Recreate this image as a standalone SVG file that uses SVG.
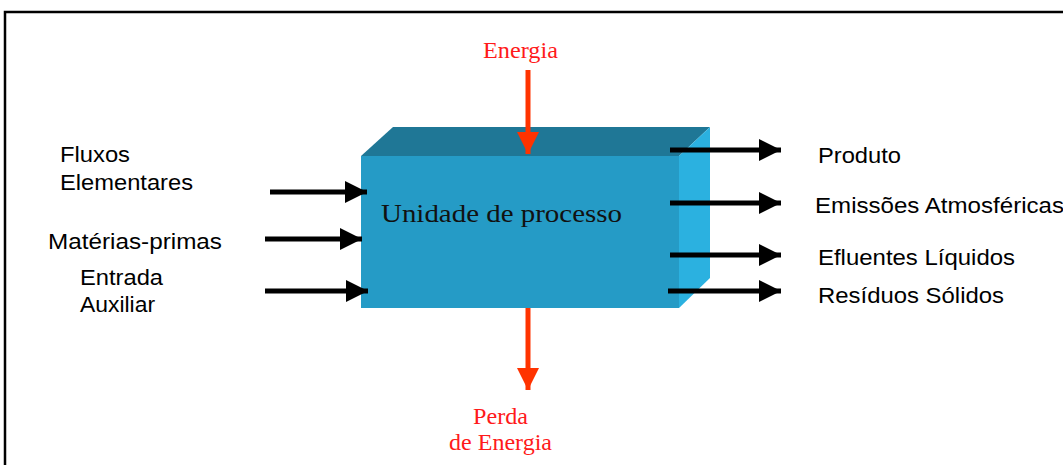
<svg xmlns="http://www.w3.org/2000/svg" width="1063" height="465" viewBox="0 0 1063 465">
<style>
.lbl{font-family:"Liberation Sans",Arial,sans-serif;font-size:22px;fill:#000}
.red{font-family:"Liberation Serif","Times New Roman",serif;font-size:23px;fill:#FF1A1A}
.blk{stroke:#000;stroke-width:5;fill:none}
.rd{stroke:#FF3300;stroke-width:5;fill:none}
</style>
<defs>
<marker id="ab" viewBox="0 0 10 10" refX="10" refY="5" markerWidth="4.8" markerHeight="4.4" markerUnits="strokeWidth" orient="auto"><path d="M0,0 L10,5 L0,10 Z" fill="#000"/></marker>
<marker id="ar" viewBox="0 0 10 10" refX="10" refY="5" markerWidth="4.4" markerHeight="4.4" markerUnits="strokeWidth" orient="auto"><path d="M0,0 L10,5 L0,10 Z" fill="#FF3300"/></marker>
</defs>
<rect width="1063" height="465" fill="#fff"/>
<path d="M5,470 L5,12 L1070,12" fill="none" stroke="#000" stroke-width="2.5"/>
<g id="unidade">
<polygon points="361,156 393,127 710,127 679,156" fill="#1F7796"/>
<polygon points="679,156 710,127 710,278 679,308" fill="#2BB1E0"/>
<rect x="361" y="156" width="318" height="152" fill="#259BC6"/>
<text x="381" y="222" font-family="Liberation Serif,'Times New Roman',serif" font-size="26" fill="#111" textLength="241" lengthAdjust="spacingAndGlyphs">Unidade de processo</text>
</g>
<g id="energia"><text class="red" x="483" y="58" textLength="75" lengthAdjust="spacingAndGlyphs">Energia</text></g>
<g id="perda"><text class="red" x="473" y="424" textLength="55" lengthAdjust="spacingAndGlyphs">Perda</text><text class="red" x="449" y="450" textLength="103" lengthAdjust="spacingAndGlyphs">de Energia</text></g>
<g id="fluxos"><text class="lbl" x="60" y="162" textLength="70" lengthAdjust="spacingAndGlyphs">Fluxos</text><text class="lbl" x="60" y="190" textLength="133" lengthAdjust="spacingAndGlyphs">Elementares</text></g>
<g id="materias"><text class="lbl" x="48" y="249" textLength="174" lengthAdjust="spacingAndGlyphs">Matérias-primas</text></g>
<g id="entrada"><text class="lbl" x="80" y="285" textLength="83" lengthAdjust="spacingAndGlyphs">Entrada</text><text class="lbl" x="80" y="312" textLength="75" lengthAdjust="spacingAndGlyphs">Auxiliar</text></g>
<g id="produto"><text class="lbl" x="818" y="163" textLength="83" lengthAdjust="spacingAndGlyphs">Produto</text></g>
<g id="emissoes"><text class="lbl" x="815" y="213" textLength="249" lengthAdjust="spacingAndGlyphs">Emissões Atmosféricas</text></g>
<g id="efluentes"><text class="lbl" x="818" y="265" textLength="197" lengthAdjust="spacingAndGlyphs">Efluentes Líquidos</text></g>
<g id="residuos"><text class="lbl" x="818" y="303" textLength="186" lengthAdjust="spacingAndGlyphs">Resíduos Sólidos</text></g>
<g id="connectors">
<line class="rd" x1="528" y1="70" x2="528" y2="154" marker-end="url(#ar)"/>
<line class="rd" x1="528" y1="308" x2="528" y2="390" marker-end="url(#ar)"/>
<line class="blk" x1="270" y1="192" x2="367" y2="192" marker-end="url(#ab)"/>
<line class="blk" x1="265" y1="239" x2="362" y2="239" marker-end="url(#ab)"/>
<line class="blk" x1="265" y1="291" x2="368" y2="291" marker-end="url(#ab)"/>
<line class="blk" x1="670" y1="150" x2="781" y2="150" marker-end="url(#ab)"/>
<line class="blk" x1="670" y1="203" x2="781" y2="203" marker-end="url(#ab)"/>
<line class="blk" x1="670" y1="255" x2="781" y2="255" marker-end="url(#ab)"/>
<line class="blk" x1="668" y1="291" x2="781" y2="291" marker-end="url(#ab)"/>
</g>
</svg>
